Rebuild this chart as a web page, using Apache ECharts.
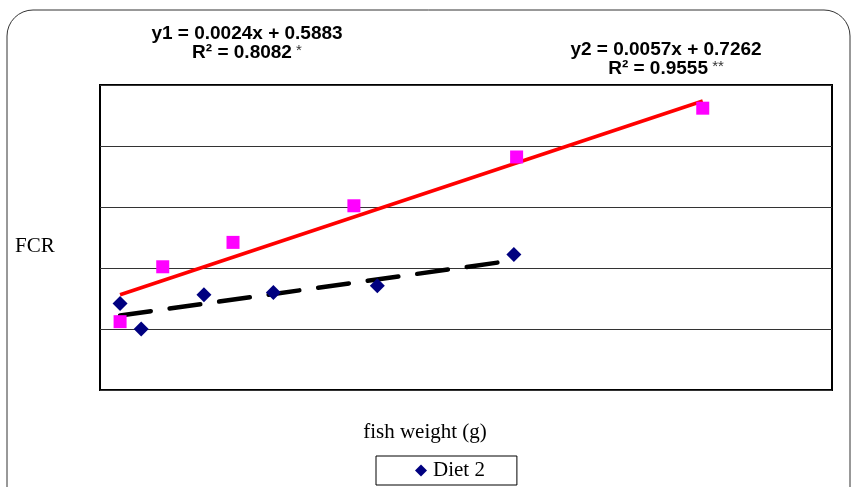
<!DOCTYPE html>
<html>
<head>
<meta charset="utf-8">
<script src="https://cdn.jsdelivr.net/npm/echarts@6/dist/echarts.min.js"></script>
<style>html,body{margin:0;padding:0;background:#fff}#c{width:855px;height:487px}</style>
</head>
<body>
<div id="c"></div>
<script>
// Diet 1 (pink squares): [fish weight (g), FCR]
var diet1 = [[9.6, 0.56], [30.0, 1.01], [63.6, 1.21], [121.4, 1.51], [199.2, 1.91], [288.2, 2.31]];
// Diet 2 (navy diamonds)
var diet2 = [[9.6, 0.71], [19.7, 0.50], [49.7, 0.78], [82.9, 0.80], [132.6, 0.855], [197.9, 1.11]];
// Trend line endpoints
var trend1 = [[9.6, 0.611], [197.9, 1.063]];
var trend2 = [[9.6, 0.781], [288.2, 2.369]];
var xRange = [0, 350];
var yRange = [0, 2.5];
var yStep = 0.5;
var eq1 = ['y1 = 0.0024x + 0.5883', 'R² = 0.8082', ' *'];
var eq2 = ['y2 = 0.0057x + 0.7262', 'R² = 0.9555', ' **'];

var chart = echarts.init(document.getElementById('c'));
var serif = '"Liberation Serif", "DejaVu Serif", serif';
var sans = '"Liberation Sans", Arial, sans-serif';
function eqText(cx, cy, e) {
  return {
    type: 'text', x: cx, y: cy,
    style: {
      text: '{b|' + e[0] + '}\n{b|' + e[1] + '}{s|' + e[2] + '}',
      align: 'center', verticalAlign: 'middle',
      rich: {
        b: {fontFamily: sans, fontWeight: 'bold', fontSize: 19, fill: '#000', lineHeight: 19},
        s: {fontFamily: sans, fontSize: 15, fill: '#333', lineHeight: 19, padding: [0, 0, 4, 0]}
      }
    }
  };
}
chart.setOption({
  animation: false,
  backgroundColor: '#fff',
  grid: {left: 100, right: 23, top: 85, bottom: 97, show: true, borderColor: '#000', borderWidth: 2},
  xAxis: {
    type: 'value', min: xRange[0], max: xRange[1],
    axisLine: {show: false}, axisTick: {show: false}, axisLabel: {show: false}, splitLine: {show: false}
  },
  yAxis: {
    type: 'value', min: yRange[0], max: yRange[1], interval: yStep,
    axisLine: {show: false}, axisTick: {show: false}, axisLabel: {show: false},
    splitLine: {show: true, lineStyle: {color: '#333', width: 1}}
  },
  legend: {
    data: [{name: 'Diet 2', icon: 'diamond'}],
    left: 376, top: 456, itemWidth: 12, itemHeight: 12, itemGap: 5,
    padding: [4, 32, 4, 39],
    borderColor: '#000', borderWidth: 1,
    textStyle: {fontFamily: serif, fontSize: 21, color: '#000', padding: [0, 0, 0, 1]}
  },
  graphic: [
    {type: 'rect', shape: {x: 7, y: 10, width: 843, height: 520, r: 26}, style: {fill: 'none', stroke: '#333', lineWidth: 1}, z: -10},
    {type: 'text', x: 15, y: 246, style: {text: 'FCR', fontFamily: serif, fontSize: 21, fill: '#000', verticalAlign: 'middle'}},
    {type: 'text', x: 425, y: 432, style: {text: 'fish weight (g)', fontFamily: serif, fontSize: 21, fill: '#000', align: 'center', verticalAlign: 'middle'}},
    eqText(247, 43, eq1),
    eqText(666, 59, eq2)
  ],
  series: [
    {name: 'Diet 1 trend', type: 'line', data: trend2, symbol: 'none', lineStyle: {color: '#ff0000', width: 3.5}, z: 2},
    {name: 'Diet 2 trend', type: 'line', data: trend1, symbol: 'none', lineStyle: {color: '#000', width: 4.5, type: [31, 19], cap: 'round'}, z: 2},
    {name: 'Diet 1', type: 'scatter', data: diet1, symbol: 'rect', symbolSize: 13, itemStyle: {color: '#ff00ff', opacity: 1}, z: 3},
    {name: 'Diet 2', type: 'scatter', data: diet2, symbol: 'diamond', symbolSize: 15, itemStyle: {color: '#000080', opacity: 1}, z: 3}
  ]
});
</script>
</body>
</html>
